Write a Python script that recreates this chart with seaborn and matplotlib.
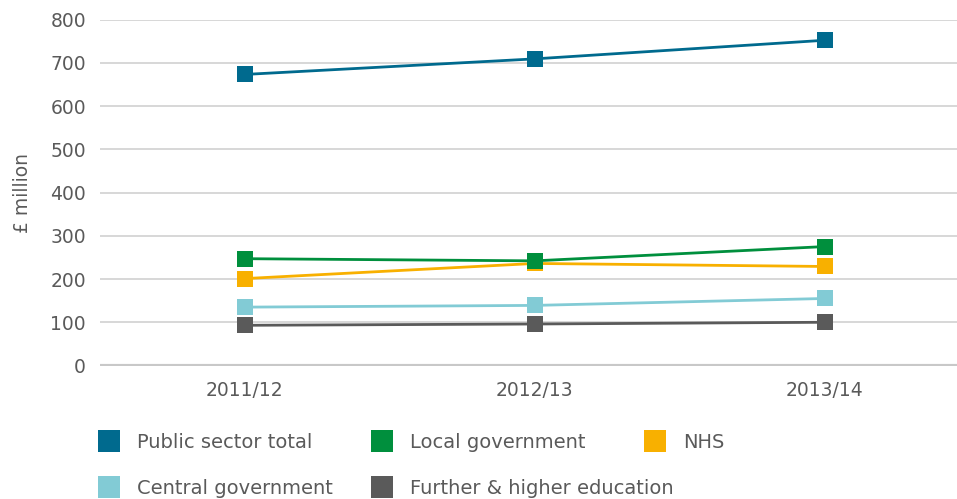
import numpy as np
import pandas as pd
import matplotlib
matplotlib.use('Agg')
import matplotlib.pyplot as plt
import seaborn as sns
from matplotlib.lines import Line2D

# data
years = ['2011/12', '2012/13', '2013/14']
public_total = [673, 709, 752]
local_gov = [247, 242, 275]
nhs = [201, 236, 229]
central_gov = [135, 139, 155]
further_higher = [93, 96, 100]

series = ['Public sector total', 'Local government', 'NHS',
          'Central government', 'Further & higher education']
values = [public_total, local_gov, nhs, central_gov, further_higher]
colours = ['#006a8e', '#008f3d', '#f8b000', '#82cbd5', '#5a5a5a']

df = pd.DataFrame({
    'year': years * len(series),
    'x': list(range(len(years))) * len(series),
    'series': np.repeat(series, len(years)),
    'value': np.concatenate(values),
})

sns.set_style('white')
plt.rcParams['font.family'] = ['DejaVu Sans']
txt = '#5a5a5a'

fig = plt.figure(figsize=(9.57, 4.99), dpi=100)
ax = fig.add_axes([0.1045, 0.2675, 0.8955, 0.6934])

palette = dict(zip(series, colours))
# draw order: NHS below local government
draw_order = ['Public sector total', 'NHS', 'Local government',
              'Central government', 'Further & higher education']
for s in draw_order:
    sns.lineplot(data=df[df['series'] == s], x='x', y='value', color=palette[s],
                 marker='s', markersize=12.2, markeredgewidth=0, linewidth=2,
                 legend=False, ax=ax)

ax.set_xlim(-0.5, 2.457)
ax.set_ylim(0, 800)
ax.set_yticks(range(0, 801, 100))
ax.set_xticks(range(len(years)))
ax.set_xticklabels(years)
ax.grid(axis='y', color='#d4d4d4', linewidth=1.3)
ax.set_axisbelow(True)
ax.axhline(0, color='#c8c8c8', linewidth=3, zorder=1)
for sp in ax.spines.values():
    sp.set_visible(False)
ax.tick_params(axis='both', length=0, labelsize=13.5, colors=txt)
ax.tick_params(axis='x', pad=11)
ax.tick_params(axis='y', pad=10)
ax.set_xlabel('')
ax.set_ylabel('£ million', fontsize=13.5, color=txt)
ax.yaxis.set_label_coords(-0.079, 0.5)

# legend laid out in three columns, row-wise
columns = [[0, 3], [1, 4], [2]]
col_x = [97, 370, 643]
for idx, cx in zip(columns, col_x):
    handles = [Line2D([], [], linestyle='none', marker='s', markersize=16.5,
                      markerfacecolor=colours[i], markeredgewidth=0) for i in idx]
    fig.legend(handles, [series[i] for i in idx], loc='upper left',
               bbox_to_anchor=(cx / 957, 1 - 433 / 499), frameon=False,
               fontsize=14, labelcolor=txt, handlelength=1.2,
               handletextpad=0.85, labelspacing=1.38, borderpad=0,
               borderaxespad=0)

fig.savefig('out.png', dpi=100)
